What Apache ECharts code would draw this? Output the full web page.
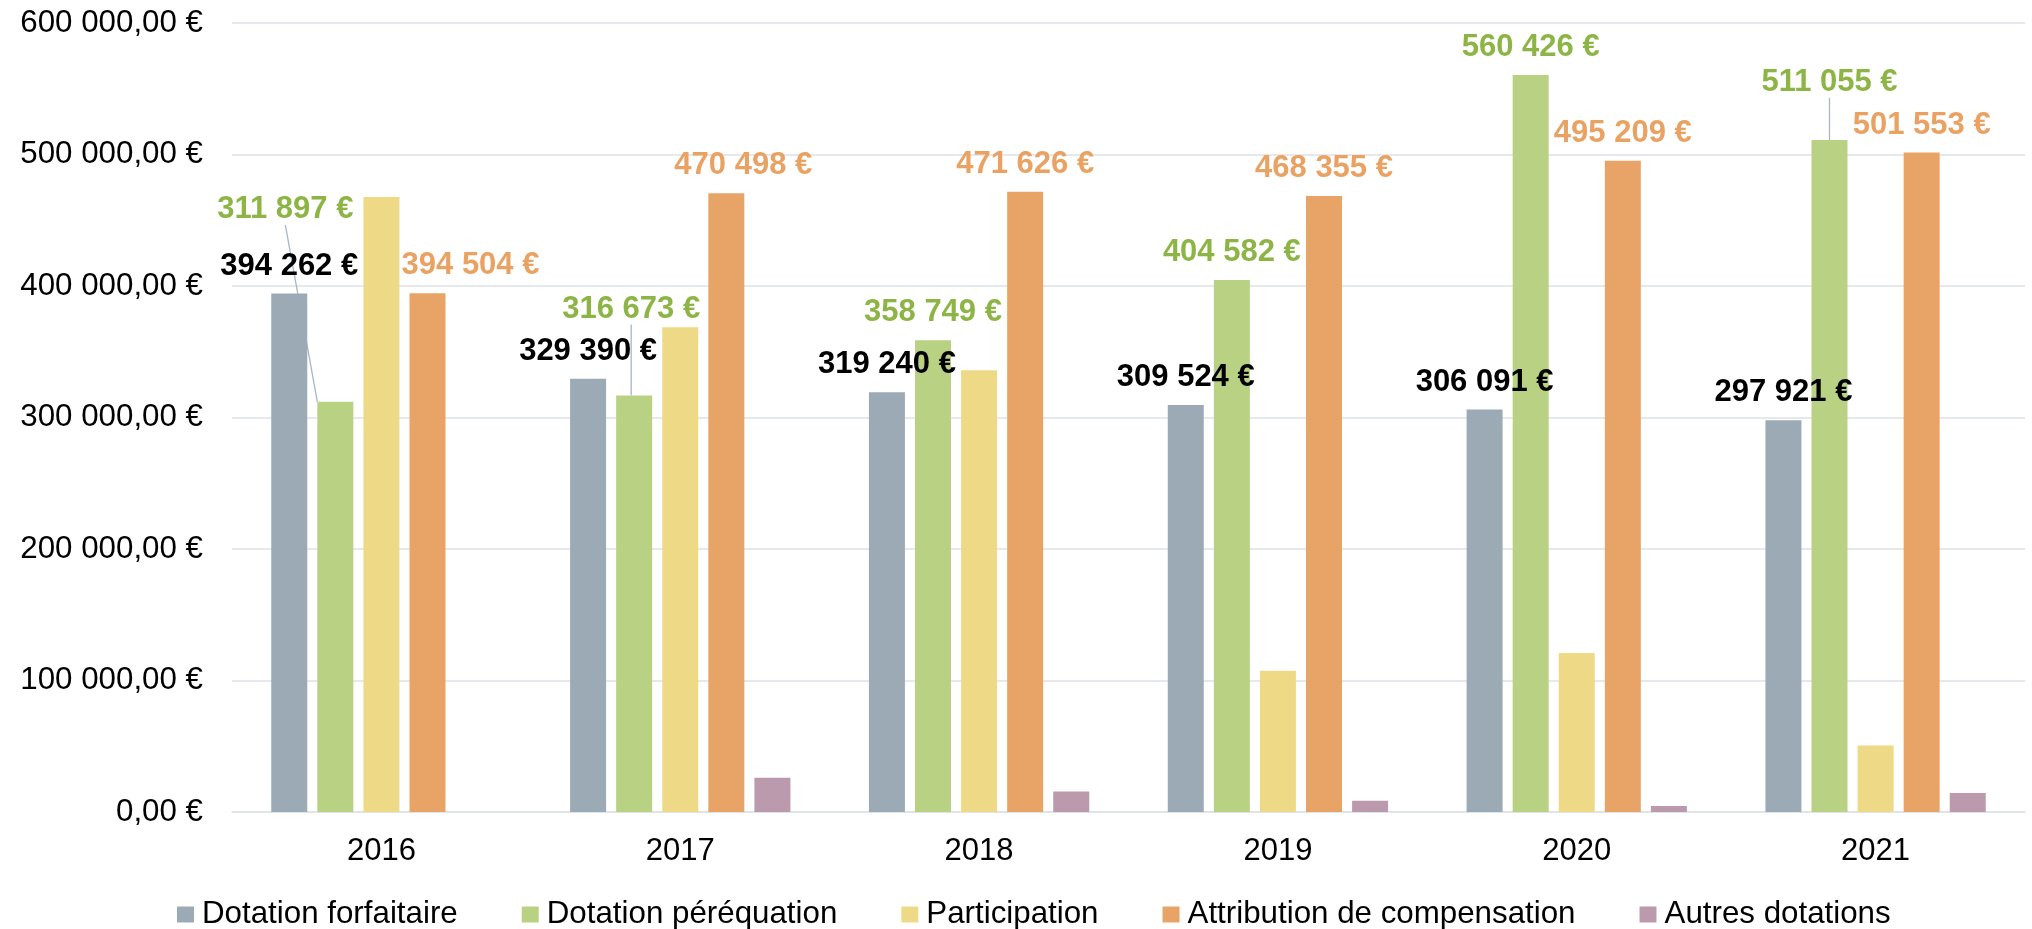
<!DOCTYPE html>
<html>
<head>
<meta charset="utf-8">
<script src="https://cdn.jsdelivr.net/npm/echarts@6/dist/echarts.min.js"></script>
<style>
  html, body { margin: 0; padding: 0; background: #fff; }
  #chart { width: 2032px; height: 929px; }
</style>
</head>
<body>
<div id="chart"></div>
<script>
const years = ['2016', '2017', '2018', '2019', '2020', '2021'];
const seriesNames = ['Dotation forfaitaire', 'Dotation péréquation', 'Participation', 'Attribution de compensation', 'Autres dotations'];
const forfaitaire = [394262, 329390, 319240, 309524, 306091, 297921];
const perequation = [311897, 316673, 358749, 404582, 560426, 511055];
const participation = [467700, 368600, 336000, 107500, 121000, 50500];
const compensation = [394504, 470498, 471626, 468355, 495209, 501553];
const autres = [null, 26000, 15500, 8500, 4500, 14500];
const yTicks = [0, 100000, 200000, 300000, 400000, 500000, 600000];

// labels that were moved by hand in the original chart
const greenMoves = { 0: [-50, -165], 1: [-3, -59], 5: [0, -30] };
const orangeMoves = { 0: [43, 0], 1: [17, 0] };

const font = 'Liberation Sans, Arial, sans-serif';
const colors = ['#9caab6', '#b9d183', '#eeda86', '#e8a466', '#bc9aae'];

function sep(v) {
  return String(Math.round(v)).replace(/\B(?=(\d{3})+(?!\d))/g, ' ');
}
function euro(v) {
  return sep(v) + ' €';
}

function valueLabel(color) {
  return {
    show: true,
    position: 'top',
    distance: 12,
    color: color,
    fontFamily: font,
    fontWeight: 'bold',
    fontSize: 31,
    formatter: p => euro(p.value)
  };
}

function moveLayout(moves) {
  return function (p) {
    const m = moves[p.dataIndex];
    if (!m) return {};
    return { dx: m[0], dy: m[1] };
  };
}

const chart = echarts.init(document.getElementById('chart'));

const option = {
  animation: false,
  color: colors,
  textStyle: { fontFamily: font },
  grid: { left: 232, right: 7, top: 23, bottom: 117 },
  legend: {
    data: seriesNames,
    left: 177,
    top: 899,
    padding: 0,
    icon: 'rect',
    itemWidth: 17,
    itemHeight: 16,
    itemGap: 64,
    textStyle: { fontFamily: font, fontSize: 31.3, color: '#000', padding: [0, 0, 0, 3] }
  },
  xAxis: {
    type: 'category',
    data: years,
    axisTick: { show: false },
    axisLine: { lineStyle: { color: '#dde2e8', width: 1.5 } },
    axisLabel: { color: '#000', fontSize: 31, fontFamily: font, margin: 24 }
  },
  yAxis: {
    type: 'value',
    min: yTicks[0],
    max: yTicks[yTicks.length - 1],
    interval: yTicks[1] - yTicks[0],
    axisLine: { show: false },
    axisTick: { show: false },
    splitLine: { lineStyle: { color: '#dde2e8', width: 1.5 } },
    axisLabel: {
      color: '#000',
      fontSize: 31.3,
      fontFamily: font,
      margin: 29,
      formatter: v => sep(v) + ',00 €'
    }
  },
  series: [
    {
      name: seriesNames[0],
      type: 'bar',
      data: forfaitaire,
      barWidth: 36,
      barGap: '28%',
      label: valueLabel('#000')
    },
    {
      name: seriesNames[1],
      type: 'bar',
      barWidth: 36,
      barGap: '28%',
      data: perequation.map((v, i) => greenMoves[i] && greenMoves[i][1] !== 0
        ? { value: v, labelLine: { show: true } }
        : v),
      label: valueLabel('#8db545'),
      labelLayout: moveLayout(greenMoves),
      labelLine: { show: false, lineStyle: { color: '#a9b5c1', width: 1.3 } }
    },
    {
      name: seriesNames[2],
      type: 'bar',
      barWidth: 36,
      barGap: '28%',
      data: participation
    },
    {
      name: seriesNames[3],
      type: 'bar',
      barWidth: 36,
      barGap: '28%',
      data: compensation,
      label: valueLabel('#e9a262'),
      labelLayout: moveLayout(orangeMoves)
    },
    {
      name: seriesNames[4],
      type: 'bar',
      barWidth: 36,
      barGap: '28%',
      data: autres
    }
  ]
};

chart.setOption(option);
</script>
</body>
</html>
